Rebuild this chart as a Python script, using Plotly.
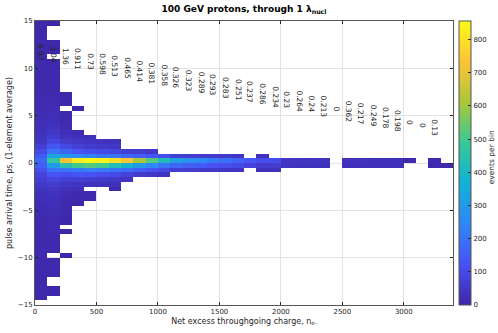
import numpy as np
import plotly.graph_objects as go

# ---- data ----
x_bin_width = 100          # charge bin width (n_e-)
y_bin_width = 0.5          # time bin width (ps)
n_x_bins = 34
n_y_bins = 60
y_low = -15

# first filled time-bin index of each charge column (index 0 -> [-15,-14.5])
col_start_row = [1, 2, 10, 21, 22, 25, 24, 26, 27, 27, 27, 28, 28, 28, 28, 28, 28,
                 29, 28, 28, 29, 29, 29, 29, 29, 29, 29, 29, 29, 29, 30, 30, 29, 29]

# events per bin, going up in time from col_start_row (None = empty bin)
col_counts = [
    [6, 7, 6, 8, 7, 8, 7, 9, 8, 9, 9, 10, 9, 11, 10, 12, 11, 13, 14, 16,
     20, 25, 30, 40, 50, 65, 80, 110, 150, 170, 140, 100, 70, 50, 40, 32, 26, 22, 20, 18,
     16, 15, 14, 13, 12, 12, 11, 10, 10, 9, 9, 8, 8, 8, 7, 7, 7, 6, 6],
    [4, 5, None, None, 6, 7, 7, 8, None, 9, 10, 11, 12, 13, 14, 15, 17, 19, 22,
     25, 30, 35, 45, 60, 85, 125, 200, 300, 480, 330, 200, 130, 90, 62, 46, 36, 30, 26, 22,
     19, 17, 15, 13, 12, 11, 10, 9, 8, 7, 6, None, 4, 4, 5, None, None, None, 4],
    [3, None, None, None, None, 3, None, 5, 6, 8, 10,
     12, 15, 20, 30, 45, 70, 115, 200, 440, 720, 300, 165, 95, 58, 36, 26, 18, 13, 9, 7,
     None, 4, 4, 3],
    [6, 10, 15, 25, 40, 72, 125, 220, 500, 830, 250, 130, 72, 45, 30, 20,
     None, None, None, None, 3],
    [8, 12, None, 35, 62, 120, 230, 520, 855, 230, 110, 60, 40, 25],
    [30, 55, 110, 220, 500, 840, 210, 100, 50, 35],
    [15, 30, 50, 100, 200, 430, 800, 200, 90, 45, 30],
    [40, 80, 180, 380, 730, 170, 70],
    [60, 150, 300, 610, 150, 60],
    [50, 120, 250, 520, 130, 50],
    [40, 100, 200, 420, 110],
    [70, 170, 320, 70],
    [60, 150, 280, 65],
    [55, 140, 250, 60],
    [50, 120, 220, 55],
    [45, 110, 190, 50],
    [40, 100, 160, 45],
    [80, 130],
    [30, 60, 110, 30],
    [30, 60, 100],
    [40, 45], [35, 42], [32, 40], [30, 38],
    [],
    [30, 35], [28, 32], [26, 30], [25, 30], [25, 28],
    [10],
    [],
    [10, 15],
    [8],
]

# spread printed above each charge column
spread_labels = [8.97, 3.04, 1.36, 0.911, 0.73, 0.598, 0.513, 0.465, 0.414, 0.381,
                 0.358, 0.326, 0.323, 0.289, 0.293, 0.283, 0.251, 0.237, 0.286, 0.234,
                 0.23, 0.264, 0.24, 0.213, 0, 0.362, 0.217, 0.249, 0.178, 0.198,
                 0, 0, 0.13]

x_ticks = [0, 500, 1000, 1500, 2000, 2500, 3000]
y_ticks = [-15, -10, -5, 0, 5, 10, 15]
cbar_ticks = [0, 100, 200, 300, 400, 500, 600, 700, 800]
z_max = 856

# ---- build the matrix ----
z = np.full((n_y_bins, n_x_bins), np.nan)
for c, (k0, vals) in enumerate(zip(col_start_row, col_counts)):
    for i, v in enumerate(vals):
        if v is not None:
            z[k0 + i, c] = v

x_centers = (np.arange(n_x_bins) + 0.5) * x_bin_width
y_centers = y_low + (np.arange(n_y_bins) + 0.5) * y_bin_width

parula = [
    [0 / 7, "rgb(62,38,168)"],
    [1 / 7, "rgb(72,82,244)"],
    [2 / 7, "rgb(46,135,247)"],
    [3 / 7, "rgb(18,177,214)"],
    [4 / 7, "rgb(55,200,151)"],
    [5 / 7, "rgb(171,199,57)"],
    [6 / 7, "rgb(254,195,56)"],
    [7 / 7, "rgb(249,251,21)"],
]

FONT = "DejaVu Sans"
AX = "#262626"

fig = go.Figure(go.Heatmap(
    x=x_centers, y=y_centers, z=z,
    zmin=0, zmax=z_max, colorscale=parula,
    colorbar=dict(
        x=1.0144, xanchor="left", xpad=0, y=0.5, yanchor="middle", ypad=0,
        len=1, lenmode="fraction", thickness=12,
        tickvals=cbar_ticks, ticks="inside", ticklen=3, tickcolor=AX,
        tickfont=dict(size=7, color=AX, family=FONT),
        outlinewidth=1, outlinecolor="#555555",
    ),
    hoverinfo="skip",
))

annotations = []
for i, lab in enumerate(spread_labels):
    xc = x_centers[i]
    annotations.append(dict(
        x=xc, y=11.85 - 0.0025 * xc, xref="x", yref="y",
        text=f"{lab:.3g}", showarrow=False, textangle=90,
        xanchor="center", yanchor="middle",
        font=dict(size=7.5, color=AX, family=FONT),
    ))

# colour bar title
annotations.append(dict(
    x=(491 - 35) / 418, y=0.52, xref="paper", yref="paper",
    text="events per bin", showarrow=False, textangle=-90,
    xanchor="center", yanchor="middle",
    font=dict(size=7.5, color=AX, family=FONT),
))

axis_common = dict(
    showline=True, linecolor="#555555", linewidth=1, mirror="allticks",
    ticks="inside", ticklen=3, tickcolor=AX,
    showgrid=True, gridcolor="#e3e3e3", gridwidth=1, zeroline=False,
    tickfont=dict(size=7, color=AX, family=FONT),
)

fig.update_layout(
    width=498, height=333,
    margin=dict(l=35, r=45, t=21, b=28, autoexpand=False),
    paper_bgcolor="white", plot_bgcolor="white",
    font=dict(family=FONT, color=AX),
    title=dict(text="<b>100 GeV protons, through 1 λ<sub>nucl</sub></b>",
               x=(35 + 453) / 2 / 498, xanchor="center", y=1 - 9 / 333, yanchor="middle",
               font=dict(size=9, color="#000000", family=FONT)),
    xaxis=dict(range=[0, 3400], tickvals=x_ticks,
               title=dict(text="Net excess throughgoing charge, n<sub>e-</sub>",
                          font=dict(size=8, color=AX, family=FONT), standoff=2),
               **axis_common),
    yaxis=dict(range=[-15, 15], tickvals=y_ticks,
               title=dict(text="pulse arrival time, ps, (1-element average)",
                          font=dict(size=8, color=AX, family=FONT), standoff=4),
               **axis_common),
    annotations=annotations,
)

fig.write_html("out.html")
